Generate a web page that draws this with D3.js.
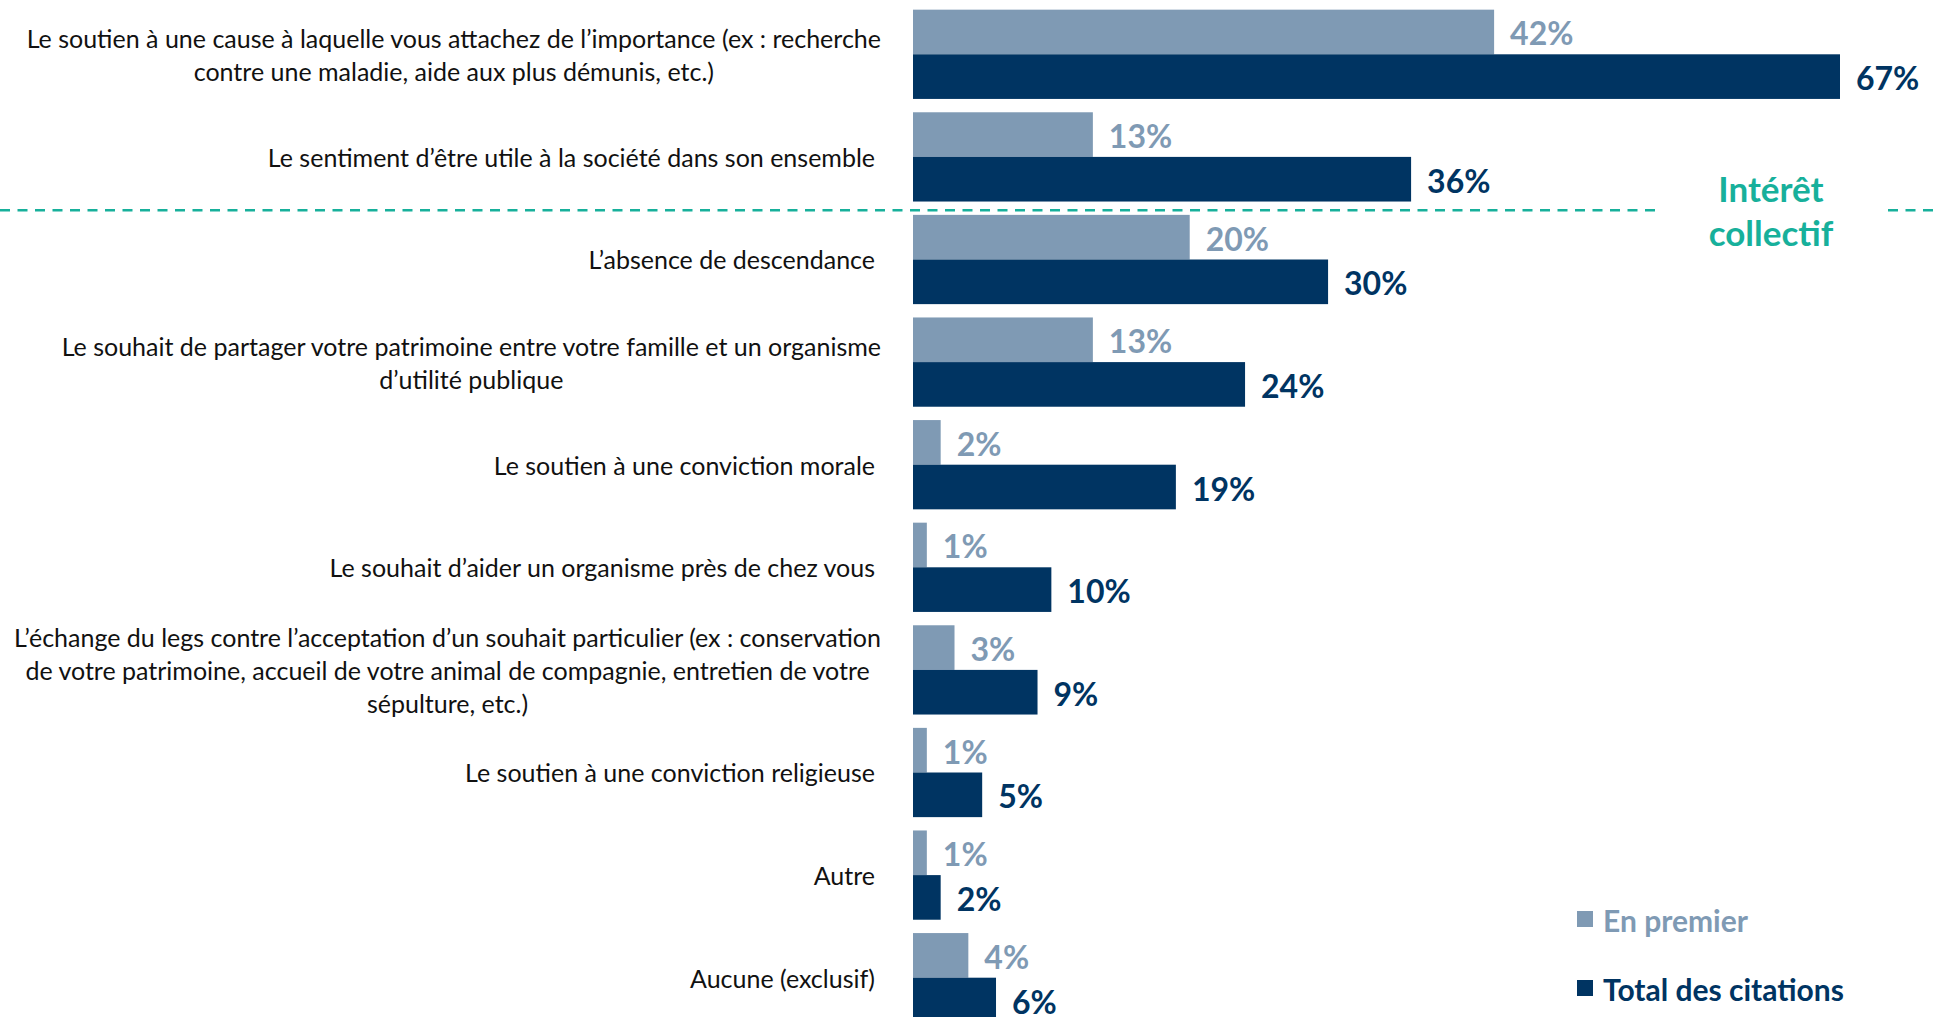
<!DOCTYPE html>
<html>
<head>
<meta charset="utf-8">
<script src="https://cdn.jsdelivr.net/npm/d3@7"></script>
<style>
    body { margin: 0; background: #ffffff; overflow: hidden; }
    text { font-family: Lato, "Open Sans", sans-serif; }
</style>
</head>
<body>
<script>
'use strict';

// categories, one entry per line of the label
const categories = [
    ["Le soutien à une cause à laquelle vous attachez de l’importance (ex : recherche", "contre une maladie, aide aux plus démunis, etc.)"],
    ["Le sentiment d’être utile à la société dans son ensemble"],
    ["L’absence de descendance"],
    ["Le souhait de partager votre patrimoine entre votre famille et un organisme", "d’utilité publique"],
    ["Le soutien à une conviction morale"],
    ["Le souhait d’aider un organisme près de chez vous"],
    ["L’échange du legs contre l’acceptation d’un souhait particulier (ex : conservation", "de votre patrimoine, accueil de votre animal de compagnie, entretien de votre", "sépulture, etc.)"],
    ["Le soutien à une conviction religieuse"],
    ["Autre"],
    ["Aucune (exclusif)"]
];

const enPremier = [42, 13, 20, 13, 2, 1, 3, 1, 1, 4];
const totalCitations = [67, 36, 30, 24, 19, 10, 9, 5, 2, 6];

const seriesNames = ["En premier", "Total des citations"];
const groupLabel = ["Intérêt", "collectif"];

(function() {

    const measurements = {
        width: 1937,
        height: 1017
    };

    const colors = {
        light: "#7f9ab4",
        dark: "#003462",
        teal: "#17b09b",
        text: "#111111"
    };

    const svg = d3.select('body')
        .append('svg')
        .attr('width', measurements.width)
        .attr('height', measurements.height);

    // one row per category
    const rows = categories.map((lines, i) => ({
        id: i,
        lines: lines,
        values: [enPremier[i], totalCitations[i]]
    }));

    // scales
    const xScale = d3.scaleLinear()
        .domain([0, 67])
        .range([913, 1840]);

    const yScale = d3.scaleBand()
        .domain(rows.map((d) => d.id))
        .range([3, 1029])
        .paddingInner(0.13)
        .paddingOuter(0.065);

    const ySub = d3.scaleBand()
        .domain([0, 1])
        .range([0, yScale.bandwidth()]);

    const seriesColor = d3.scaleOrdinal()
        .domain([0, 1])
        .range([colors.light, colors.dark]);

    // dashed separator between the first two rows and the rest
    const sepY = (yScale(1) + yScale.bandwidth() + yScale(2)) / 2 + 2;
    [[0, 1655], [1888, measurements.width]].forEach((seg) => {
        svg.append('line')
            .attr('x1', seg[0]).attr('x2', seg[1])
            .attr('y1', sepY).attr('y2', sepY)
            .attr('stroke', colors.teal)
            .attr('stroke-width', 2.5)
            .attr('stroke-dasharray', '10,7.5');
    });

    svg.append('g')
        .selectAll('text')
        .data(groupLabel)
        .enter()
        .append('text')
            .attr('x', 1771)
            .attr('y', (d, i) => sepY - 22 + i * 44)
            .attr('text-anchor', 'middle')
            .attr('dominant-baseline', 'central')
            .style('font-size', '35px')
            .style('font-weight', 'bold')
            .attr('fill', colors.teal)
            .text((d) => d);

    // bars
    const groups = svg.selectAll('.group')
        .data(rows)
        .enter()
        .append('g')
        .attr('class', 'group')
        .attr('transform', (d) => 'translate(0,' + yScale(d.id) + ')');

    groups.selectAll('rect')
        .data((d) => d.values.map((v, k) => ({ k: k, v: v })))
        .enter()
        .append('rect')
            .attr('x', xScale(0))
            .attr('y', (d) => ySub(d.k))
            .attr('width', (d) => xScale(d.v) - xScale(0))
            .attr('height', ySub.bandwidth())
            .attr('fill', (d) => seriesColor(d.k));

    // value labels
    groups.selectAll('.value')
        .data((d) => d.values.map((v, k) => ({ k: k, v: v })))
        .enter()
        .append('text')
            .attr('class', 'value')
            .attr('x', (d) => xScale(d.v) + 16)
            .attr('y', (d) => ySub(d.k) + ySub.bandwidth() / 2 + 1)
            .attr('dominant-baseline', 'central')
            .style('font-size', '32px')
            .style('font-weight', 'bold')
            .attr('fill', (d) => seriesColor(d.k))
            .text((d) => d.v + '%');

    // category labels, lines centred together, block right aligned
    const labelRight = 881;
    const lineHeight = 33;
    groups.each(function(d) {
        const g = d3.select(this);
        const cy = yScale.bandwidth() / 2;
        const t = g.append('text')
            .attr('class', 'cat')
            .style('font-size', '25px')
            .attr('fill', colors.text);
        const spans = t.selectAll('tspan')
            .data(d.lines)
            .enter()
            .append('tspan')
                .attr('y', (l, i) => cy + (i - (d.lines.length - 1) / 2) * lineHeight)
                .attr('dominant-baseline', 'central')
                .attr('text-anchor', 'middle')
                .text((l) => l);
        let maxW = 0;
        spans.each(function() { maxW = Math.max(maxW, this.getComputedTextLength()); });
        const extra = d.lines.length === 1 ? 6 : 0;
        spans.attr('x', labelRight - extra - maxW / 2);
    });

    // legend
    const legend = svg.append('g')
        .attr('transform', 'translate(1577, 919)');
    const legendItems = legend.selectAll('g')
        .data(seriesNames)
        .enter()
        .append('g')
        .attr('transform', (d, i) => 'translate(0,' + (i * 69) + ')');
    legendItems.append('rect')
        .attr('x', 0)
        .attr('y', -8)
        .attr('width', 16)
        .attr('height', 16)
        .attr('fill', (d, i) => seriesColor(i));
    legendItems.append('text')
        .attr('x', 26)
        .attr('y', 1)
        .attr('dominant-baseline', 'central')
        .style('font-size', '30px')
        .style('font-weight', 'bold')
        .attr('fill', (d, i) => seriesColor(i))
        .text((d) => d);
})();
</script>
</body>
</html>
